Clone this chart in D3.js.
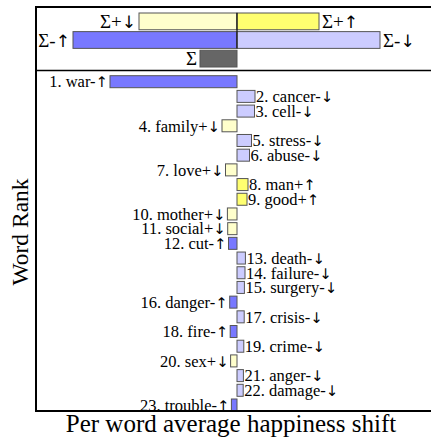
<!DOCTYPE html>
<html>
<head>
<meta charset="utf-8">
<script src="https://cdn.jsdelivr.net/npm/d3@7"></script>
<style>
  body { margin: 0; background: #fff; }
  text { font-family: "Liberation Serif", serif; fill: #000; }
  .arrow { font-family: "DejaVu Sans"; font-size: 0.9em; font-variant-emoji: text; }
</style>
</head>
<body>
<svg id="chart" width="431" height="438"></svg>
<script>
// summary bars (top panel)
var sumLabels = ["Σ+↓", "Σ+↑", "Σ-↑", "Σ-↓", "Σ"];
var sumValues = [-98, 82, -164, 143, -37];
var sumKinds = ["posDown", "posUp", "negUp", "negDown", "total"];
var sumRows = [0, 0, 1, 1, 2];

// word shifts (bottom panel)
var words = ["war", "cancer", "cell", "family", "stress", "abuse", "love", "man", "good",
  "mother", "social", "cut", "death", "failure", "surgery", "danger", "crisis", "fire",
  "crime", "sex", "anger", "damage", "trouble"];
var wordSigns = ["-↑", "-↓", "-↓", "+↓", "-↓", "-↓", "+↓", "+↑", "+↑",
  "+↓", "+↓", "-↑", "-↓", "-↓", "-↓", "-↑", "-↓", "-↑",
  "-↓", "+↓", "-↓", "-↓", "-↑"];
var wordShifts = [-127, 18, 17.5, -15, 14.5, 12.5, -11.5, 11, 10,
  -9.6, -9.3, -8.5, 8.4, 8, 7.4, -7.3, 7.2, -6.8,
  6.8, -6.4, 6.4, 6.2, -5.6];

var colors = {
  posDown: "#ffffcc",
  posUp: "#ffff70",
  negUp: "#7878ff",
  negDown: "#ccccff",
  total: "#666666"
};

function kindOf(sign) {
  if (sign == "+↓") return "posDown";
  if (sign == "+↑") return "posUp";
  if (sign == "-↑") return "negUp";
  return "negDown";
}

// write a label, arrows get their own font (and text presentation selector)
function fillLabel(sel, str) {
  var parts = str.split(/([↑↓])/);
  parts.forEach(function(p) {
    if (!p) return;
    if (p == "↑" || p == "↓") {
      sel.append("tspan").attr("class", "arrow").text(p + "\uFE0E");
    } else {
      sel.append("tspan").text(p);
    }
  });
}

var svg = d3.select("#chart");

var frameLeft = 36, frameTop = 7, frameSep = 70.5, frameBottom = 411;

// ---- top panel
var xs = d3.scaleLinear().domain([-170, 170]).range([67, 407]);
var ys = d3.scaleBand().domain([0, 1, 2]).range([13, 67]).paddingInner(0.1);

var topPanel = svg.append("g");
sumValues.forEach(function(v, i) {
  var x0 = xs(Math.min(0, v)), x1 = xs(Math.max(0, v));
  topPanel.append("rect")
    .attr("x", x0)
    .attr("y", ys(sumRows[i]))
    .attr("width", x1 - x0)
    .attr("height", ys.bandwidth())
    .attr("fill", colors[sumKinds[i]])
    .attr("stroke", "#555")
    .attr("stroke-width", 1);
  var t = topPanel.append("text")
    .attr("x", v < 0 ? x0 - 3 : x1 + 3)
    .attr("y", ys(sumRows[i]) + ys.bandwidth() / 2)
    .attr("dy", "0.35em")
    .attr("text-anchor", v < 0 ? "end" : "start")
    .attr("font-size", "19px");
  fillLabel(t, sumLabels[i]);
});
topPanel.append("line")
  .attr("x1", xs(0)).attr("x2", xs(0))
  .attr("y1", ys(0)).attr("y2", ys(1) + ys.bandwidth())
  .attr("stroke", "#000").attr("stroke-width", 1);

// ---- bottom panel
var x = d3.scaleLinear().domain([-140, 140]).range([97, 377]);
var y = d3.scaleLinear().domain([1, 23]).range([81.7, 405]);
var barH = 12;

svg.append("clipPath").attr("id", "clip")
  .append("rect")
  .attr("x", frameLeft).attr("y", frameSep)
  .attr("width", 431).attr("height", frameBottom - frameSep);

var rows = svg.append("g").attr("clip-path", "url(#clip)")
  .selectAll("g")
  .data(words)
  .enter()
  .append("g");

rows.append("rect")
  .attr("x", function(d, i) { return x(Math.min(0, wordShifts[i])); })
  .attr("y", function(d, i) { return y(i + 1) - barH / 2; })
  .attr("width", function(d, i) { return Math.abs(x(wordShifts[i]) - x(0)); })
  .attr("height", barH)
  .attr("fill", function(d, i) { return colors[kindOf(wordSigns[i])]; })
  .attr("stroke", "#555")
  .attr("stroke-width", 1);

rows.append("text")
  .attr("x", function(d, i) {
    return wordShifts[i] < 0 ? x(wordShifts[i]) - 2 : x(wordShifts[i]) + 1;
  })
  .attr("y", function(d, i) { return y(i + 1); })
  .attr("dy", "0.35em")
  .attr("text-anchor", function(d, i) { return wordShifts[i] < 0 ? "end" : "start"; })
  .attr("font-size", "16.5px")
  .each(function(d, i) {
    fillLabel(d3.select(this), (i + 1) + ". " + d + wordSigns[i]);
  });

// ---- frame
svg.append("path")
  .attr("d", "M440," + frameTop + "H" + frameLeft + "V" + frameBottom + "H440")
  .attr("fill", "none")
  .attr("stroke", "#000")
  .attr("stroke-width", 2);
svg.append("line")
  .attr("x1", frameLeft).attr("x2", 440)
  .attr("y1", frameSep).attr("y2", frameSep)
  .attr("stroke", "#000").attr("stroke-width", 1.5);

// ---- axis titles
svg.append("text")
  .attr("x", 231)
  .attr("y", 432)
  .attr("text-anchor", "middle")
  .attr("font-size", "25px")
  .text("Per word average happiness shift");

svg.append("text")
  .attr("transform", "translate(28,232) rotate(-90)")
  .attr("text-anchor", "middle")
  .attr("font-size", "23.5px")
  .text("Word Rank");
</script>
</body>
</html>
